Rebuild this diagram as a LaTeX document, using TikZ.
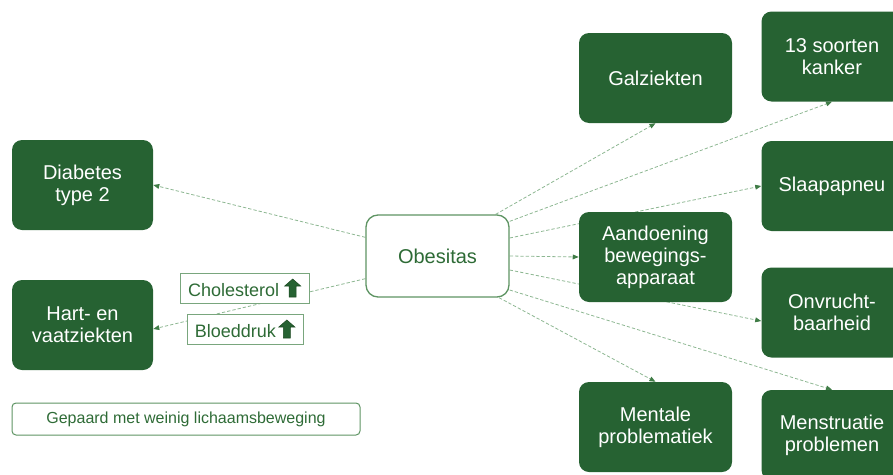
\documentclass[tikz,border=0pt]{standalone}
\usepackage{fontspec}
\setmainfont{Liberation Sans}
\usepackage{xcolor}
\usepackage{tikz}
\usetikzlibrary{arrows.meta,backgrounds}

\definecolor{donkergroen}{HTML}{266232}
\definecolor{tekstgroen}{HTML}{2E6B36}
\definecolor{randgroen}{HTML}{5E9463}
\definecolor{lichtrand}{HTML}{79A67D}
\definecolor{lijngroen}{HTML}{8DB792}
\definecolor{puntgroen}{HTML}{3F7C46}
\definecolor{pijlrand}{HTML}{1D4A22}

\newcommand{\pijlop}{\tikz[baseline=0pt, x=1pt, y=1pt]\filldraw[fill=donkergroen, draw=pijlrand, line width=0.4pt]
  (-2.6,-0.75) -- (2.6,-0.75) -- (2.6,7.5) -- (6,7.5) -- (0,12.75) -- (-6,7.5) -- (-2.6,7.5) -- cycle;}

\begin{document}
\begin{tikzpicture}[x=0.75pt, y=-0.75pt,
  ziekte/.style={fill=donkergroen, rounded corners=7.5pt, align=center, text=white, font=\fontsize{15}{16.5}\selectfont, minimum height=67.5pt, inner sep=2pt},
  smal/.style={ziekte, minimum width=105.75pt},
  breed/.style={ziekte, minimum width=114.75pt},
  waarde/.style={draw=lichtrand, fill=white, line width=0.75pt, text=tekstgroen, font=\fontsize{13.5}{15}\selectfont, minimum height=22.5pt, inner sep=2pt},
  arr/.style={-{Triangle[length=4.5pt, width=3.6pt, color=puntgroen]}, draw=lijngroen, line width=0.6pt, dash pattern=on 2.5pt off 1.5pt}]
  \useasboundingbox (0,0) rectangle (893,475);
  \clip (0,0) rectangle (893,475);
  % links
  \node[smal] (diab) at (82.5,185) {Diabetes\\type 2};
  \node[smal] (hart) at (82.5,325) {Hart- en\\vaatziekten};
  \node[draw=randgroen, rounded corners=3pt, line width=0.75pt, text=tekstgroen, font=\fontsize{12}{14}\selectfont, minimum width=261pt, minimum height=24pt] (bew) at (186,419) {Gepaard met weinig lichaamsbeweging};
  \node[waarde, minimum width=96.75pt] (chol) at (244.5,288) {Cholesterol\hspace{4pt}\pijlop};
  \node[waarde, minimum width=87pt] (bloed) at (245,329) {Bloeddruk\hspace{2pt}\pijlop};
  % midden
  \node[draw=randgroen, fill=white, rounded corners=9pt, line width=1pt, text=tekstgroen, font=\fontsize{15}{16.5}\selectfont, minimum width=107.25pt, minimum height=61.5pt] (obes) at (437.5,256) {Obesitas};
  % rechts
  \node[breed] (galz) at (655.5,78) {Galziekten};
  \node[breed] (aand) at (655.5,257) {Aandoening\\bewegings-\\apparaat};
  \node[breed] (ment) at (655.5,427) {Mentale\\problematiek};
  \node[smal] (kank) at (832,56.5) {13 soorten\\kanker};
  \node[smal] (slaap) at (832,186) {Slaapapneu};
  \node[smal] (onv) at (832,312.5) {Onvrucht-\\baarheid};
  \node[smal] (menst) at (832,435) {Menstruatie\\problemen};
  \begin{pgfonlayer}{background}
    \draw[arr] ([yshift=14pt]obes.west) -- (diab.east);
    \draw[arr] ([yshift=-17pt]obes.west) -- ([yshift=-3pt]hart.east);
    \draw[arr] ([xshift=-10.5pt]obes.north east) -- (galz.south);
    \draw[arr] ([yshift=26pt]obes.east) -- (kank.south);
    \draw[arr] ([yshift=13.5pt]obes.east) -- (slaap.west);
    \draw[arr] (obes.east) -- (aand.west);
    \draw[arr] ([yshift=-10.5pt]obes.east) -- ([yshift=-6.4pt]onv.west);
    \draw[arr] ([yshift=-25.5pt]obes.east) -- (menst.north);
    \draw[arr] ([xshift=-8pt]obes.south east) -- (ment.north);
  \end{pgfonlayer}
\end{tikzpicture}
\end{document}
